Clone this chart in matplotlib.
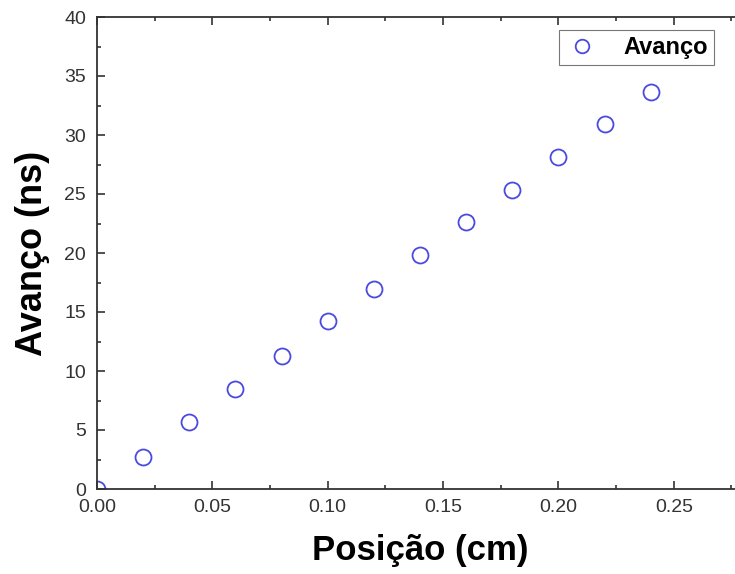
import matplotlib
matplotlib.use("Agg")
import matplotlib.pyplot as plt
from matplotlib.ticker import MultipleLocator

plt.rcParams['font.family'] = ['Liberation Sans', 'DejaVu Sans']

# data
posicao = [0.00, 0.02, 0.04, 0.06, 0.08, 0.10, 0.12, 0.14, 0.16, 0.18, 0.20, 0.22, 0.24]
avanco = [0.0, 2.7, 5.7, 8.5, 11.3, 14.25, 16.95, 19.8, 22.6, 25.35, 28.1, 30.9, 33.65]
x_ticks = [0.00, 0.05, 0.10, 0.15, 0.20, 0.25]
x_ticklabels = ["0.00", "0.05", "0.10", "0.15", "0.20", "0.25"]
y_ticks = [0, 5, 10, 15, 20, 25, 30, 35, 40]

fig = plt.figure(figsize=(7.35, 5.74), dpi=100)
# axes run slightly past the right edge, like the cropped original
ax = fig.add_axes([97/735, 85/574, 646/735, 472/574])

ax.plot(posicao, avanco, 'o', mfc='none', mec='#4a4ae0', mew=1.3, ms=11.5,
        label='Avanço')

ax.set_xlim(0, 0.28)
ax.set_ylim(0, 40)
ax.set_xticks(x_ticks)
ax.set_xticklabels(x_ticklabels)
ax.set_yticks(y_ticks)
ax.xaxis.set_minor_locator(MultipleLocator(0.025))
ax.yaxis.set_minor_locator(MultipleLocator(2.5))
ax.tick_params(which='both', direction='in', top=True, right=True,
               labelsize=14, colors='#333333', labelcolor='#333333')
ax.tick_params(which='major', length=6, width=1.2)
ax.tick_params(which='minor', length=3, width=1.2)
ax.tick_params(axis='x', pad=7)
ax.tick_params(axis='y', pad=8)
for s in ax.spines.values():
    s.set_linewidth(1.3)
    s.set_color('#333333')

ax.set_xlabel('Posição (cm)', fontsize=25, fontweight='bold', labelpad=13)
ax.set_ylabel('Avanço (ns)', fontsize=26, fontweight='bold', labelpad=10)

leg = ax.legend(loc='upper right', bbox_to_anchor=((714-97)/646, 1 - 13/472),
                prop={'size': 17, 'weight': 'bold'}, frameon=True,
                fancybox=False, borderpad=0.25, handletextpad=1.0, handlelength=1.5,
                borderaxespad=0, markerscale=0.85)
leg.get_frame().set_edgecolor('#555555')
leg.get_frame().set_linewidth(0.8)

fig.savefig('out.png', dpi=100)
